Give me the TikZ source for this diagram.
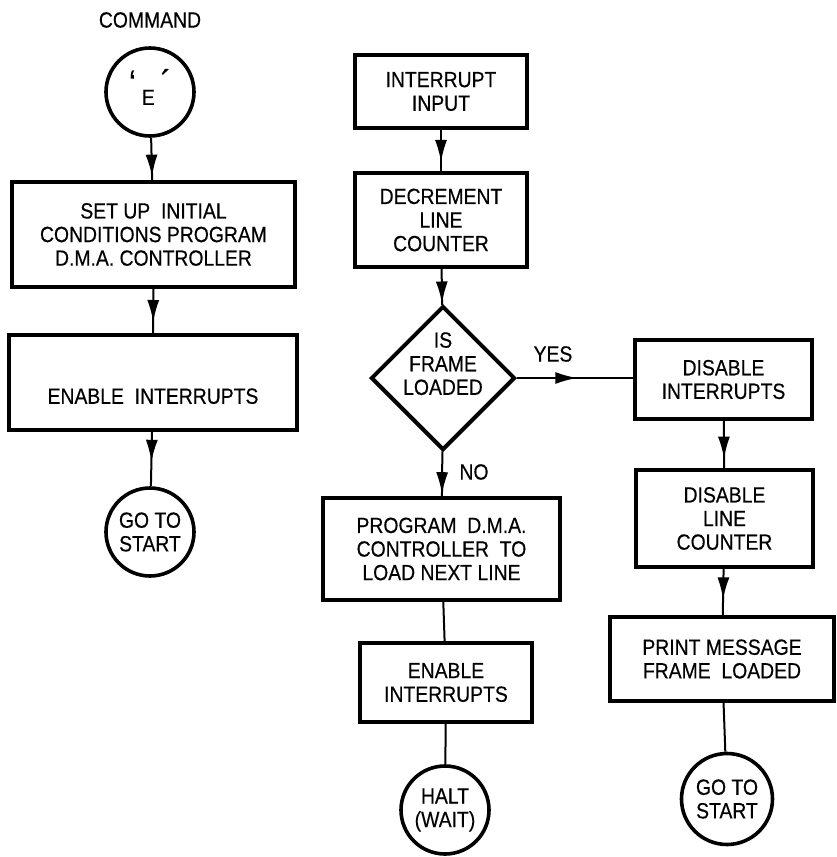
\documentclass[tikz,border=0pt]{standalone}
\usepackage{fontspec}
\setsansfont{Liberation Sans}[FakeStretch=0.88,FakeBold=0.4]
\usetikzlibrary{arrows.meta,positioning,shapes.geometric,decorations.markings}
\tikzstyle{proc}=[draw,rectangle,line width=2pt,align=center,inner sep=2pt]
\tikzstyle{term}=[draw,circle,line width=1.8pt,align=center,inner sep=0pt]
\tikzstyle{test}=[draw,diamond,line width=2pt,align=center,inner sep=0pt,aspect=1]
\tikzstyle{plain}=[line width=1pt]
\tikzset{flow/.style={line width=1pt,postaction={decorate},decoration={markings,mark=at position #1 with {\arrow{Latex[length=11pt,width=6pt]}}}},flow/.default=0.75}
% text block moved up or down inside its shape
\newcommand{\movetext}[2]{\raisebox{#1}[0pt][0pt]{\begin{tabular}{@{}c@{}}#2\end{tabular}}}
\newcommand{\tick}[1]{\raisebox{5pt}{\scalebox{1.6}{\char"#1}}}

\begin{document}
\begin{tikzpicture}[font=\sffamily\fontsize{11}{11.8}\selectfont,x=0.5pt,y=-0.5pt]
\useasboundingbox (0,0) rectangle (836,857);
% command 'E'
\node (cmd) at (150,20) {COMMAND};
\node [term, minimum size=44pt] (cmdE) at (150,92) {\movetext{-2pt}{\tick{60}\hspace{3pt}E\hspace{3pt}\tick{B4}}};
\node [proc, minimum width=141.5pt, minimum height=52.5pt] (setup) at (153.5,234.5) {SET UP \ INITIAL\\CONDITIONS PROGRAM\\D.M.A. CONTROLLER};
\node [proc, minimum width=144pt, minimum height=47.5pt] (enableA) at (153,382.5) {\movetext{-11pt}{ENABLE \ INTERRUPTS}};
\node [term, minimum size=44pt] (startA) at (150,532) {GO TO\\START};
% interrupt
\node [proc, minimum width=86pt, minimum height=36.5pt] (intr) at (441,91.5) {INTERRUPT\\INPUT};
\node [proc, minimum width=86pt, minimum height=47pt] (decr) at (441,220) {DECREMENT\\LINE\\COUNTER};
\node [test, minimum width=72pt, minimum height=72pt] (loaded) at (443,378) {\movetext{3pt}{IS\\FRAME\\LOADED}};
\node [proc, minimum width=118.5pt, minimum height=51pt] (prog) at (441.5,549) {PROGRAM \ D.M.A.\\CONTROLLER \ TO\\LOAD NEXT LINE};
\node [proc, minimum width=86pt, minimum height=39.5pt] (enableB) at (446,682.5) {ENABLE\\INTERRUPTS};
\node [term, minimum size=44pt] (halt) at (445,810) {HALT\\(WAIT)};
% frame loaded
\node [proc, minimum width=88.5pt, minimum height=39.5pt] (disint) at (723.5,379.5) {DISABLE\\INTERRUPTS};
\node [proc, minimum width=88.5pt, minimum height=48.5pt] (disline) at (724.5,518.5) {DISABLE\\LINE\\COUNTER};
\node [proc, minimum width=112pt, minimum height=42pt] (msg) at (722,659) {PRINT MESSAGE\\FRAME \ LOADED};
\node [term, minimum size=45.5pt] (startB) at (727,799) {GO TO\\START};
\node (yes) at (553,354) {YES};
\node (no) at (474,472) {NO};

\draw [flow=0.92] (cmdE) -- (setup);
\draw [flow] (setup) -- (enableA);
\draw [flow=0.55] (enableA) -- (startA);
\draw [flow=0.78] (intr) -- (decr);
\draw [flow=0.96] (decr) -- (loaded);
\draw [flow=0.52] (loaded) -- (loaded -| disint.west);
\draw [flow=0.96] (loaded) -- (prog);
\draw [plain] (prog) -- (enableB);
\draw [plain] (enableB) -- (halt);
\draw [flow=0.8] (disint) -- (disline);
\draw [flow=0.66] (disline) -- (msg);
\draw [plain] (msg) -- (startB);
\end{tikzpicture}
\end{document}
